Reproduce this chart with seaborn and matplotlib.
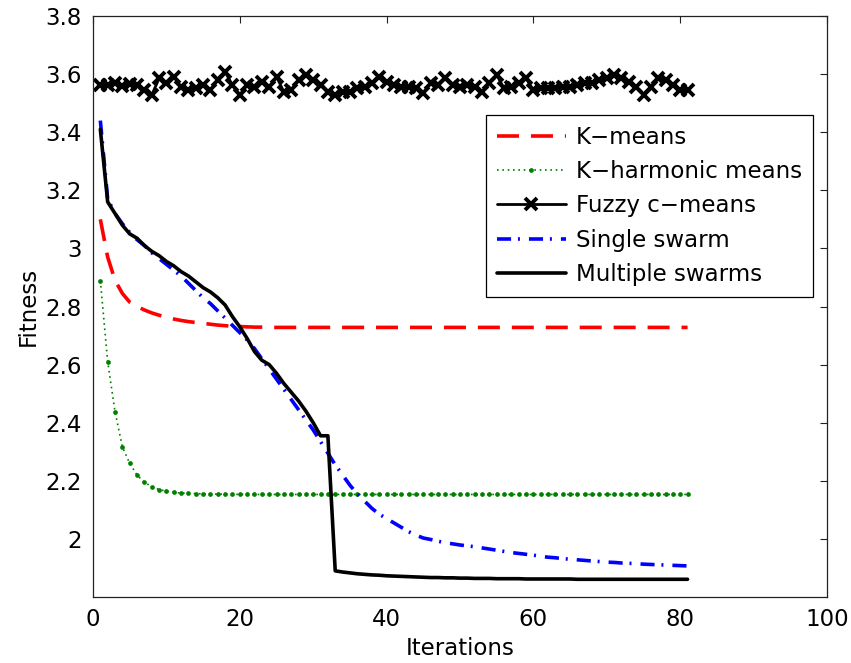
import matplotlib
matplotlib.use("Agg")
import matplotlib.pyplot as plt
import seaborn as sns
from matplotlib.ticker import FixedLocator, FuncFormatter

# ---- data -------------------------------------------------------------
iterations = list(range(1, 82))

kmeans = [
    3.100, 2.970, 2.890, 2.845, 2.815, 2.800, 2.788, 2.778, 2.770, 2.763,
    2.757, 2.752, 2.748, 2.745, 2.742, 2.739, 2.736, 2.734, 2.732, 2.731,
    2.730, 2.729, 2.729, 2.728, 2.728, 2.728, 2.728, 2.728, 2.728, 2.728,
    2.728, 2.728, 2.728, 2.728, 2.728, 2.728, 2.728, 2.728, 2.728, 2.728,
    2.728, 2.728, 2.728, 2.728, 2.728, 2.728, 2.728, 2.728, 2.728, 2.728,
    2.728, 2.728, 2.728, 2.728, 2.728, 2.728, 2.728, 2.728, 2.728, 2.728,
    2.728, 2.728, 2.728, 2.728, 2.728, 2.728, 2.728, 2.728, 2.728, 2.728,
    2.728, 2.728, 2.728, 2.728, 2.728, 2.728, 2.728, 2.728, 2.728, 2.728,
    2.728,
]

kharmonic = [
    2.889, 2.610, 2.438, 2.317, 2.260, 2.220, 2.195, 2.180, 2.170, 2.164,
    2.160, 2.158, 2.157, 2.156, 2.155, 2.155, 2.154, 2.154, 2.154, 2.153,
    2.153, 2.153, 2.153, 2.153, 2.153, 2.153, 2.153, 2.153, 2.153, 2.153,
    2.153, 2.153, 2.153, 2.153, 2.153, 2.153, 2.153, 2.153, 2.153, 2.153,
    2.153, 2.153, 2.153, 2.153, 2.153, 2.153, 2.153, 2.153, 2.153, 2.153,
    2.153, 2.153, 2.153, 2.153, 2.153, 2.153, 2.153, 2.153, 2.153, 2.153,
    2.153, 2.153, 2.153, 2.153, 2.153, 2.153, 2.153, 2.153, 2.153, 2.153,
    2.153, 2.153, 2.153, 2.153, 2.153, 2.153, 2.153, 2.153, 2.153, 2.153,
    2.153,
]

fuzzy = [
    3.562, 3.562, 3.568, 3.559, 3.566, 3.562, 3.545, 3.528, 3.585, 3.568,
    3.591, 3.557, 3.545, 3.551, 3.562, 3.545, 3.580, 3.608, 3.562, 3.528,
    3.562, 3.557, 3.574, 3.557, 3.591, 3.539, 3.545, 3.580, 3.597, 3.580,
    3.562, 3.539, 3.528, 3.539, 3.539, 3.551, 3.557, 3.568, 3.591, 3.574,
    3.562, 3.557, 3.557, 3.551, 3.534, 3.568, 3.562, 3.585, 3.562, 3.557,
    3.562, 3.557, 3.539, 3.568, 3.597, 3.551, 3.557, 3.568, 3.585, 3.545,
    3.551, 3.551, 3.551, 3.557, 3.557, 3.562, 3.568, 3.568, 3.580, 3.585,
    3.597, 3.585, 3.574, 3.557, 3.528, 3.557, 3.585, 3.580, 3.562, 3.545,
    3.545,
]

single_swarm = [
    3.440, 3.170, 3.120, 3.085, 3.055, 3.030, 3.010, 2.985, 2.965, 2.945,
    2.925, 2.905, 2.880, 2.855, 2.830, 2.810, 2.785, 2.760, 2.735, 2.710,
    2.685, 2.655, 2.620, 2.585, 2.550, 2.515, 2.480, 2.445, 2.410, 2.375,
    2.335, 2.295, 2.255, 2.220, 2.185, 2.155, 2.130, 2.105, 2.085, 2.070,
    2.055, 2.040, 2.025, 2.013, 2.003, 1.998, 1.992, 1.987, 1.983, 1.979,
    1.976, 1.973, 1.969, 1.965, 1.961, 1.957, 1.953, 1.950, 1.947, 1.944,
    1.940, 1.937, 1.935, 1.932, 1.930, 1.928, 1.926, 1.924, 1.922, 1.920,
    1.919, 1.917, 1.916, 1.915, 1.913, 1.912, 1.911, 1.910, 1.909, 1.908,
    1.907,
]

multiple_swarms = [
    3.410, 3.160, 3.120, 3.080, 3.050, 3.035, 3.010, 2.990, 2.975, 2.955,
    2.940, 2.920, 2.905, 2.885, 2.865, 2.850, 2.830, 2.805, 2.765, 2.730,
    2.690, 2.645, 2.615, 2.600, 2.570, 2.535, 2.505, 2.475, 2.440, 2.400,
    2.355, 2.355, 1.890, 1.886, 1.883, 1.880, 1.878, 1.876, 1.875, 1.873,
    1.872, 1.871, 1.870, 1.869, 1.868, 1.867, 1.867, 1.866, 1.866, 1.865,
    1.865, 1.864, 1.864, 1.864, 1.863, 1.863, 1.863, 1.863, 1.862, 1.862,
    1.862, 1.862, 1.862, 1.862, 1.862, 1.861, 1.861, 1.861, 1.861, 1.861,
    1.861, 1.861, 1.861, 1.861, 1.861, 1.861, 1.861, 1.861, 1.861, 1.861,
    1.861,
]

series_labels = ["K\u2212means", "K\u2212harmonic means", "Fuzzy c\u2212means",
                 "Single swarm", "Multiple swarms"]
x_ticks = [0, 20, 40, 60, 80, 100]
y_ticks = [2.0, 2.2, 2.4, 2.6, 2.8, 3.0, 3.2, 3.4, 3.6, 3.8]

# ---- style ------------------------------------------------------------
sns.set_theme(style="white")
plt.rcParams["font.family"] = ["DejaVu Sans"]
plt.rcParams["text.color"] = "black"
plt.rcParams["axes.labelcolor"] = "black"
plt.rcParams["xtick.color"] = "#222222"
plt.rcParams["ytick.color"] = "#222222"
plt.rcParams["xtick.labelcolor"] = "black"
plt.rcParams["ytick.labelcolor"] = "black"

fig = plt.figure(figsize=(8.51, 6.63), dpi=100)
ax = fig.add_axes([93 / 851, 66 / 663, 734 / 851, 581 / 663])

sns.lineplot(x=iterations, y=kmeans, ax=ax, color="#ff0000", linewidth=2.6,
             linestyle=(0, (6.1, 3.3)), label=series_labels[0])
sns.lineplot(x=iterations, y=kharmonic, ax=ax, color="#008000", linewidth=1.2,
             linestyle=(0, (1.0, 2.2)), marker="o", markersize=3.4,
             markeredgewidth=0, markeredgecolor="#008000",
             markerfacecolor="#008000", label=series_labels[1])
sns.lineplot(x=iterations, y=fuzzy, ax=ax, color="black", linewidth=2.0,
             marker="x", markersize=8.5, markeredgewidth=2.8,
             markeredgecolor="black", label=series_labels[2])
sns.lineplot(x=iterations, y=single_swarm, ax=ax, color="#0000ff", linewidth=2.6,
             linestyle=(0, (3.9, 1.9, 0.55, 2.5)), label=series_labels[3])
sns.lineplot(x=iterations, y=multiple_swarms, ax=ax, color="black", linewidth=2.6,
             label=series_labels[4])

ax.set_xlim(0, 100)
ax.set_ylim(1.8, 3.8)
ax.xaxis.set_major_locator(FixedLocator(x_ticks))
ax.yaxis.set_major_locator(FixedLocator(y_ticks))
ax.yaxis.set_major_formatter(FuncFormatter(lambda v, _: f"{v:g}"))

for side in ["left", "right", "top", "bottom"]:
    ax.spines[side].set_visible(True)
    ax.spines[side].set_color("#222222")
    ax.spines[side].set_linewidth(0.9)

ax.tick_params(axis="both", direction="in", length=5, width=0.8,
               top=True, right=True, labelsize=16.5)
ax.tick_params(axis="y", pad=8)
ax.tick_params(axis="x", pad=8)

ax.set_xlabel("Iterations", fontsize=16.5)
ax.set_ylabel("Fitness", fontsize=16.5)
ax.xaxis.set_label_coords(0.5, -0.068)
ax.yaxis.set_label_coords(-0.072, 0.5)

leg = ax.legend(loc="upper right", bbox_to_anchor=(0.981, 0.8296),
                borderaxespad=0, fontsize=16.5, frameon=True, fancybox=False,
                shadow=False, framealpha=1, edgecolor="black", numpoints=1,
                handlelength=3.0, handletextpad=0.45, labelspacing=0.49,
                borderpad=0.48)
leg.get_frame().set_linewidth(0.9)

fig.savefig("out.png", dpi=100)
